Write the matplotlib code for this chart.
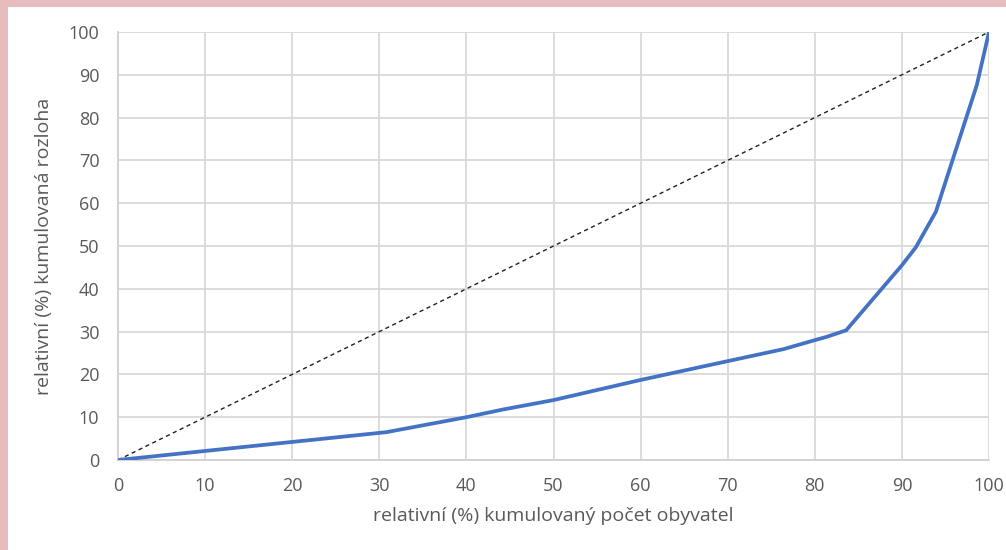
import matplotlib
matplotlib.use("Agg")
import matplotlib.pyplot as plt
from matplotlib.patches import Rectangle

# Data
pop_cum = [0, 30.8, 40.0, 44.2, 50.0, 60.0, 70.0, 76.4, 80.0, 81.4, 83.6, 90.0, 91.6, 93.9, 98.6, 100]
area_cum = [0, 6.5, 10.0, 11.8, 14.0, 18.7, 23.1, 25.9, 28.0, 28.8, 30.3, 45.5, 49.7, 58.0, 87.6, 100]
diag = [0, 100]
ticks = list(range(0, 101, 10))
xlabel = "relativní (%) kumulovaný počet obyvatel"
ylabel = "relativní (%) kumulovaná rozloha"

plt.rcParams['font.family'] = ['Open Sans', 'DejaVu Sans']

fig = plt.figure(figsize=(10.06, 5.5), dpi=100)
fig.patch.set_facecolor('#e6bcbc')
fig.patches.append(Rectangle((8/1006, 0), 1 - 8/1006, 1 - 7/550, transform=fig.transFigure,
                             facecolor='white', edgecolor='none', zorder=-5))

ax = fig.add_axes([118/1006, 1 - 460/550, (989 - 118)/1006, (460 - 32)/550])
ax.set_zorder(2)
ax.set_facecolor('white')

ax.plot(diag, diag, color='#202020', linestyle=(0, (3, 2.5)), linewidth=1.0, zorder=3)
ax.plot(pop_cum, area_cum, color='#4472C4', linewidth=2.7, solid_joinstyle='round', zorder=4)

ax.set_xlim(0, 100)
ax.set_ylim(0, 100)
ax.set_xticks(ticks)
ax.set_yticks(ticks)
ax.grid(True, color='#d9d9d9', linewidth=1.3, zorder=1)
ax.set_axisbelow(True)
for s in ['top', 'right']:
    ax.spines[s].set_visible(False)
for s in ['left', 'bottom']:
    ax.spines[s].set_color('#d0d0d0')
    ax.spines[s].set_linewidth(1.3)
ax.tick_params(axis='both', length=0, labelsize=13, labelcolor='#595959')
ax.tick_params(axis='y', pad=13.5)
ax.tick_params(axis='x', pad=12)
ax.set_xlabel(xlabel, fontsize=14, color='#595959', labelpad=9)
ax.set_ylabel(ylabel, fontsize=14, color='#595959', labelpad=11)

fig.savefig('out.png', dpi=100)
